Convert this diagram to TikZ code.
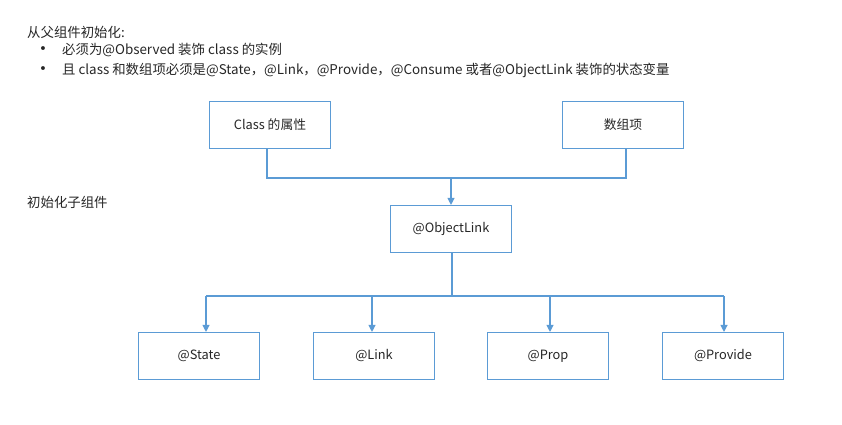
\documentclass[tikz,border=0pt]{standalone}
\usepackage{fontspec}
\setmainfont{Noto Sans CJK SC}
\newfontfamily\dotfont{DejaVu Sans}
\usepackage{xcolor}
\usetikzlibrary{positioning, arrows.meta}

\definecolor{linkblue}{HTML}{5B9BD5}
\definecolor{txtgray}{HTML}{262626}

\begin{document}
\begin{tikzpicture}[
    x=1pt, y=-1pt,
    box/.style={draw=linkblue, line width=1.1pt, minimum width=121pt, minimum height=47pt, text=txtgray, font=\fontsize{12.8}{15}\selectfont},
    note/.style={anchor=west, text=txtgray, inner sep=0pt, font=\fontsize{13.4}{16}\selectfont},
    wire/.style={draw=linkblue, line width=1.1pt},
    arr/.style={wire, -{Triangle[length=7pt, width=7pt]}}
]
\useasboundingbox (0,0) rectangle (842,424);

% Notes at the top
\node[note] (title) at (27,32) {从父组件初始化:};
\node[note] (dot1) at (39,50) {\dotfont •};
\node[note] (rule1) at (62,50) {必须为@Observed 装饰 class 的实例};
\node[note] (dot2) at (39,70) {\dotfont •};
\node[note] (rule2) at (62,70) {且 class 和数组项必须是@State，@Link，@Provide，@Consume 或者@ObjectLink 装饰的状态变量};
\node[note] (child) at (27,202) {初始化子组件};

% Parent side
\node[box] (attr) at (270,125) {Class 的属性};
\node[box] (items) at (623,125) {数组项};
\node[box] (objlink) at (451,229) {@ObjectLink};

% Child side
\node[box] (state) at (199,356) {@State};
\node[box] (link) at (374,356) {@Link};
\node[box] (prop) at (548,356) {@Prop};
\node[box] (provide) at (723,356) {@Provide};

% Junctions
\coordinate (up) at (451,178);
\coordinate (down) at (452,296);
\coordinate (tState) at (206,296);
\coordinate (tLink) at (372,296);
\coordinate (tProp) at (550,296);
\coordinate (tProvide) at (724,296);

% Arrows
\draw[wire] (attr.south -| 267,0) |- (up) -| (items.south -| 626,0);
\draw[arr] (up) -- (objlink.north);
\draw[wire] (objlink.south -| down) -- (down);
\draw[wire] (tState) -- (tProvide);
\draw[arr] (tState) -- (tState |- state.north);
\draw[arr] (tLink) -- (tLink |- link.north);
\draw[arr] (tProp) -- (tProp |- prop.north);
\draw[arr] (tProvide) -- (tProvide |- provide.north);

\end{tikzpicture}
\end{document}
